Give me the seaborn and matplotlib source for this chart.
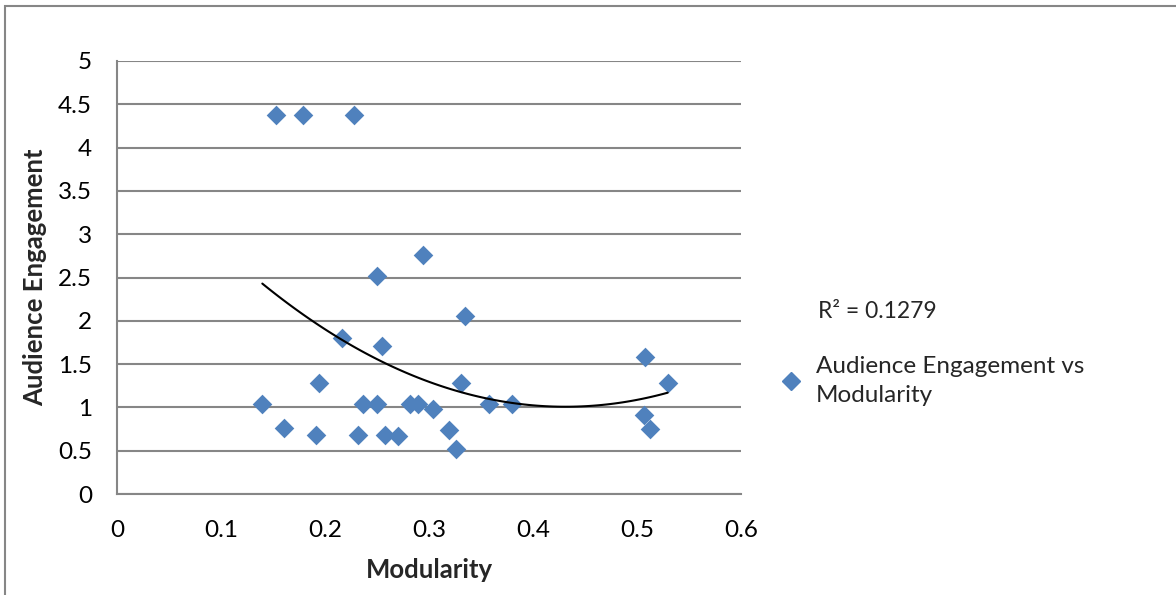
import numpy as np
import pandas as pd
import matplotlib
matplotlib.use('Agg')
import matplotlib.pyplot as plt
from matplotlib.patches import Rectangle
from matplotlib.lines import Line2D
import seaborn as sns

# data
modularity = [0.153, 0.179, 0.228, 0.2945, 0.250, 0.335, 0.216, 0.255, 0.508,
              0.194, 0.331, 0.5295, 0.1397, 0.237, 0.250, 0.282, 0.289, 0.304,
              0.358, 0.3795, 0.5065, 0.161, 0.319, 0.5125, 0.1917, 0.232, 0.258,
              0.2705, 0.326]
engagement = [4.38, 4.38, 4.38, 2.763, 2.52, 2.052, 1.80, 1.709, 1.586,
              1.278, 1.278, 1.278, 1.036, 1.039, 1.039, 1.039, 1.039, 0.978,
              1.039, 1.039, 0.912, 0.762, 0.739, 0.747, 0.685, 0.685, 0.685,
              0.670, 0.52]
x_ticks = [0, 0.1, 0.2, 0.3, 0.4, 0.5, 0.6]
y_ticks = [0, 0.5, 1, 1.5, 2, 2.5, 3, 3.5, 4, 4.5, 5]
r2_text = 'R² = 0.1279'
series_name = 'Audience Engagement vs\nModularity'

df = pd.DataFrame({'Modularity': modularity, 'Audience Engagement': engagement})

sns.set_style('white')
plt.rcParams['font.family'] = ['Lato', 'DejaVu Sans']

blue = '#4F81BD'
grey = '#868686'

fig = plt.figure(figsize=(11.76, 5.95), dpi=100)
ax = fig.add_axes([0.0995, 0.1697, 0.5306, 0.7278])

# outer chart border (cut off at right/bottom in the reference)
fig.patches.append(Rectangle((4.5 / 1176, -0.05), 1.2, 1 - 5.5 / 595 + 0.05,
                             transform=fig.transFigure, fill=False,
                             edgecolor=grey, linewidth=1.5, zorder=0))

sns.scatterplot(data=df, x='Modularity', y='Audience Engagement', ax=ax,
                marker='D', s=100, color=blue, edgecolor=blue, linewidth=0,
                zorder=3, legend=False)
sns.regplot(data=df, x='Modularity', y='Audience Engagement', ax=ax,
            order=2, ci=None, scatter=False, truncate=True,
            line_kws={'color': 'black', 'linewidth': 1.5, 'zorder': 4})

ax.set_xlim(0, 0.6)
ax.set_ylim(0, 5)
ax.set_xticks(x_ticks)
ax.set_xticklabels([f'{t:g}' for t in x_ticks])
ax.set_yticks(y_ticks)
ax.set_yticklabels([f'{t:g}' for t in y_ticks])
ax.yaxis.grid(True, color=grey, linewidth=1.5)
ax.xaxis.grid(False)
ax.set_axisbelow(True)

for side in ['top', 'right']:
    ax.spines[side].set_visible(False)
for side in ['left', 'bottom']:
    ax.spines[side].set_color(grey)
    ax.spines[side].set_linewidth(1.5)

ax.tick_params(axis='both', which='major', direction='out', length=6,
               width=1.5, color=grey, labelsize=17.5, labelcolor='black')
ax.tick_params(axis='x', pad=13)
ax.tick_params(axis='y', pad=12)

ax.set_xlabel('Modularity', fontsize=18.5, fontweight='bold')
ax.set_ylabel('Audience Engagement', fontsize=18.5, fontweight='bold')
ax.xaxis.set_label_coords(0.5, -0.148)
ax.yaxis.set_label_coords(-0.112, 0.5)

fig.text(818 / 1176, 1 - 312 / 595, r2_text, fontsize=16.5, va='center', ha='left')

handle = Line2D([], [], linestyle='none', marker='D', markersize=9,
                markerfacecolor=blue, markeredgecolor=blue)
leg = fig.legend([handle], [series_name], loc='center left',
                 bbox_to_anchor=(755 / 1176, 1 - 381 / 595), frameon=False,
                 fontsize=17.5, handletextpad=0.4, handlelength=1.2)
leg.get_texts()[0].set_linespacing(1.45)

fig.savefig('out.png', dpi=100)
